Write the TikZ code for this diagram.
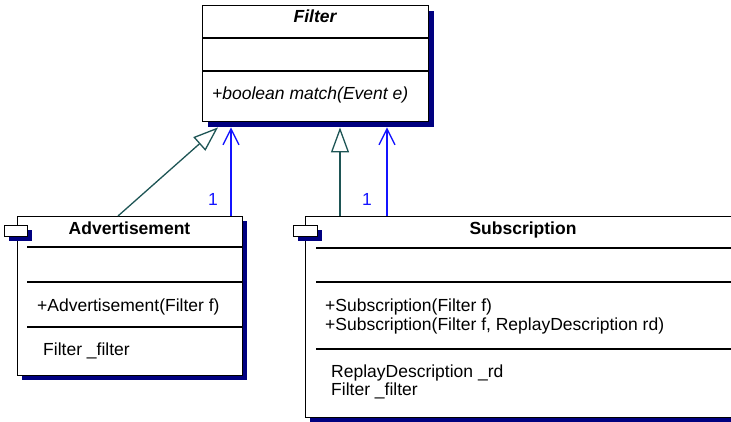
\documentclass[tikz,border=0pt]{standalone}
\usepackage{fontspec}
\setmainfont{Liberation Sans}
\usetikzlibrary{arrows.meta,shadows,calc}
\definecolor{umlshadow}{RGB}{0,0,128}
\definecolor{genteal}{RGB}{30,85,85}
\definecolor{assocblue}{RGB}{20,20,255}
\newcommand\umlfont{\fontsize{17.5pt}{21pt}\selectfont}
\begin{document}
\begin{tikzpicture}[x=1pt,y=-1pt,
  classbox/.style={draw=black, line width=1.4pt, fill=white, rectangle,
    inner sep=0pt, anchor=north west},
  bigshadow/.style={drop shadow={shadow xshift=5pt, shadow yshift=-5pt,
    fill=umlshadow, opacity=1}},
  smallshadow/.style={drop shadow={shadow xshift=4pt, shadow yshift=-4pt,
    fill=umlshadow, opacity=1}},
  tabbox/.style={draw=black, line width=1.3pt, fill=white, rectangle,
    inner sep=0pt, anchor=north west, minimum width=23pt, minimum height=11pt},
  sep/.style={draw=black, line width=1.3pt},
  txt/.style={inner sep=0pt, anchor=base west, font=\umlfont},
  title/.style={inner sep=0pt, anchor=base, font=\umlfont\bfseries},
  gen/.style={draw=genteal, line width=1.3pt,
    -{Triangle[length=25pt, width=18pt, fill=white]}},
  assoc/.style={draw=assocblue, line width=1.3pt,
    -{Straight Barb[length=16pt, width=16pt]}},
  mult/.style={inner sep=0pt, anchor=base, text=assocblue, font=\umlfont},
]
\clip (0,0) rectangle (731,422);

% Filter (abstract class)
\node[classbox, bigshadow, minimum width=226pt, minimum height=116pt] (filter) at (202,5) {};
\draw[sep] (202,38) -- (428,38);
\draw[sep] (202,71) -- (428,71);
\node[title, font=\umlfont\bfseries\itshape] (filtername) at (315,23) {Filter};
\node[txt, font=\umlfont\itshape] (filtermatch) at (212,100) {+boolean match(Event e)};

% Advertisement
\node[classbox, smallshadow, minimum width=225pt, minimum height=159pt] (adv) at (17,216) {};
\node[tabbox, smallshadow] (advtab) at (4,225) {};
\draw[sep] (27,247) -- (242,247);
\draw[sep] (27,282) -- (242,282);
\draw[sep] (27,327) -- (242,327);
\node[title] (advname) at (129.5,235) {Advertisement};
\node[txt] (advctor) at (37,311) {+Advertisement(Filter f)};
\node[txt] (advfield) at (43,355) {Filter \_filter};

% Subscription
\node[classbox, smallshadow, minimum width=436pt, minimum height=201pt] (sub) at (305,216) {};
\node[tabbox, smallshadow, minimum width=24pt] (subtab) at (293,225) {};
\draw[sep] (316,248) -- (741,248);
\draw[sep] (316,282) -- (741,282);
\draw[sep] (316,349) -- (741,349);
\node[title] (subname) at (523,235) {Subscription};
\node[txt] (subctora) at (325,311) {+Subscription(Filter f)};
\node[txt] (subctorb) at (325,330) {+Subscription(Filter f, ReplayDescription rd)};
\node[txt] (subrd) at (331,377) {ReplayDescription \_rd};
\node[txt] (subfield) at (331,395) {Filter \_filter};

% Generalizations and navigable associations
\draw[gen] ($(adv.north west)+(101,0)$) -- ($(filter.south west)+(16,5)$);
\draw[assoc] ($(adv.north west)+(214,0)$) -- ($(filter.south west)+(29,5)$);
\draw[gen] ($(sub.north west)+(35,0)$) -- ($(filter.south west)+(138,5)$);
\draw[assoc] ($(sub.north west)+(82,0)$) -- ($(filter.south west)+(185,5)$);
\node[mult] (multadv) at (213,206) {1};
\node[mult] (multsub) at (367,206) {1};
\end{tikzpicture}
\end{document}
